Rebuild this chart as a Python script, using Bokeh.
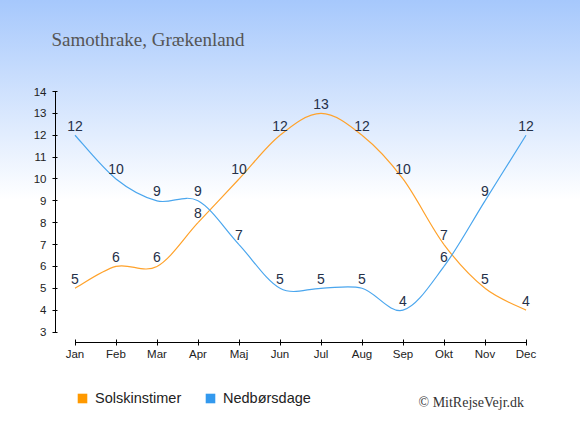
from bokeh.plotting import figure
from bokeh.models import (ColumnDataSource, FixedTicker, Label, Legend, LegendItem,
                          InlineStyleSheet, Range1d)
from bokeh.core.properties import value
from bokeh.embed import file_html
from bokeh.resources import INLINE

# ---- data ----
months = ["Jan", "Feb", "Mar", "Apr", "Maj", "Jun", "Jul", "Aug", "Sep", "Okt", "Nov", "Dec"]
month_idx = list(range(1, 13))
sun_hours = [5, 6, 6, 8, 10, 12, 13, 12, 10, 7, 5, 4]
rain_days = [12, 10, 9, 9, 7, 5, 5, 5, 4, 6, 9, 12]
y_ticks = list(range(3, 15))
title_text = "Samothrake, Grækenland"
series_names = ["Solskinstimer", "Nedbørsdage"]
credit = "© MitRejseVejr.dk"

ORANGE = "#ffa22b"
BLUE = "#4aa6ee"
LABEL_COLOR = "#253048"

W, H = 580, 435

# page-pixel -> data helpers
X_PER = 41.0
Y_PER = 21.86
x0_page, y3_page = 74.5, 331.5
def xd(px):
    return 1 + (px - x0_page) / X_PER
def yd(py):
    return 3 + (y3_page - py) / Y_PER

css = InlineStyleSheet(css=":host { background: linear-gradient(to bottom, #a6c8fc 0%, #ffffff 46%, #ffffff 100%); }")

p = figure(width=W, height=H, output_backend="svg", toolbar_location=None,
           x_range=Range1d(xd(0), xd(W)), y_range=Range1d(yd(H), yd(0)),
           min_border=0, stylesheets=[css])
p.background_fill_alpha = 0
p.border_fill_alpha = 0
p.outline_line_color = None
p.grid.visible = False

for ax in (p.xaxis[0], p.yaxis[0]):
    ax.axis_line_color = "black"
    ax.major_tick_line_color = "black"
    ax.minor_tick_line_color = None
    ax.major_label_text_font = "Liberation Sans"
    ax.major_label_text_font_size = "11.5px"
    ax.major_label_text_color = "#222222"

p.xaxis.ticker = FixedTicker(ticks=month_idx)
p.xaxis.major_label_overrides = {i: m for i, m in zip(month_idx, months)}
p.xaxis.bounds = (month_idx[0], month_idx[-1])
p.xaxis.fixed_location = yd(341.7)
p.xaxis.major_tick_out = 3
p.xaxis.major_tick_in = 3
p.xaxis.major_label_standoff = 3

p.yaxis.ticker = FixedTicker(ticks=y_ticks)
p.yaxis.bounds = (y_ticks[0], y_ticks[-1])
p.yaxis.fixed_location = xd(55)
p.yaxis.major_tick_out = 3
p.yaxis.major_tick_in = 2
p.yaxis.major_label_standoff = 6


def catmull_bezier(xs, ys):
    n = len(xs)
    d = dict(x0=[], y0=[], x1=[], y1=[], cx0=[], cy0=[], cx1=[], cy1=[])
    for i in range(n - 1):
        ip = max(i - 1, 0)
        i2 = min(i + 2, n - 1)
        d["x0"].append(xs[i]); d["y0"].append(ys[i])
        d["x1"].append(xs[i + 1]); d["y1"].append(ys[i + 1])
        d["cx0"].append(xs[i] + (xs[i + 1] - xs[ip]) / 6)
        d["cy0"].append(ys[i] + (ys[i + 1] - ys[ip]) / 6)
        d["cx1"].append(xs[i + 1] - (xs[i2] - xs[i]) / 6)
        d["cy1"].append(ys[i + 1] - (ys[i2] - ys[i]) / 6)
    return ColumnDataSource(d)

for ys, col in ((sun_hours, ORANGE), (rain_days, BLUE)):
    p.bezier(x0="x0", y0="y0", x1="x1", y1="y1", cx0="cx0", cy0="cy0",
             cx1="cx1", cy1="cy1", source=catmull_bezier(month_idx, ys),
             line_color=col, line_width=1.2)

for ys in (sun_hours, rain_days):
    p.text(x=month_idx, y=ys, text=[str(v) for v in ys], text_align="center",
           text_baseline="alphabetic", y_offset=-9.5, text_color=LABEL_COLOR,
           text_font=value("Liberation Sans"), text_font_size="14px")

# title and credit
p.add_layout(Label(x=xd(51), y=yd(38.5), text=title_text, text_align="left",
                   text_baseline="alphabetic", text_font="Liberation Serif",
                   text_font_size="19px", text_color="#555555"))
p.add_layout(Label(x=xd(418), y=yd(402), text=credit, text_align="left",
                   text_baseline="alphabetic", text_font="Liberation Serif",
                   text_font_size="14px", text_color="#333333"))

# legend (swatch-only renderers with a single NaN row so nothing is drawn in the plot)
nan = float("nan")
def swatch_source():
    return ColumnDataSource(dict(left=[nan], right=[nan], top=[nan], bottom=[nan]))
r_sun = p.quad(source=swatch_source(), left="left", right="right", top="top",
               bottom="bottom", fill_color="#ff9900", line_color=None)
r_rain = p.quad(source=swatch_source(), left="left", right="right", top="top",
                bottom="bottom", fill_color="#3399ee", line_color=None)

LH = 17
GW = 12
for r, name, sq_left in ((r_sun, series_names[0], 77), (r_rain, series_names[1], 205)):
    gx = sq_left - 1
    leg = Legend(items=[LegendItem(label=name, renderers=[r], index=0)],
                 location=(gx, H - (397 - LH // 2) - LH),
                 orientation="horizontal", padding=0, margin=0, border_line_color=None,
                 background_fill_alpha=0, glyph_width=GW, glyph_height=GW,
                 label_standoff=7, label_text_font="Liberation Sans",
                 label_text_font_size="14.5px", label_text_color="#222222")
    p.add_layout(leg, "center")

open("out.html", "w").write(file_html(p, INLINE))
